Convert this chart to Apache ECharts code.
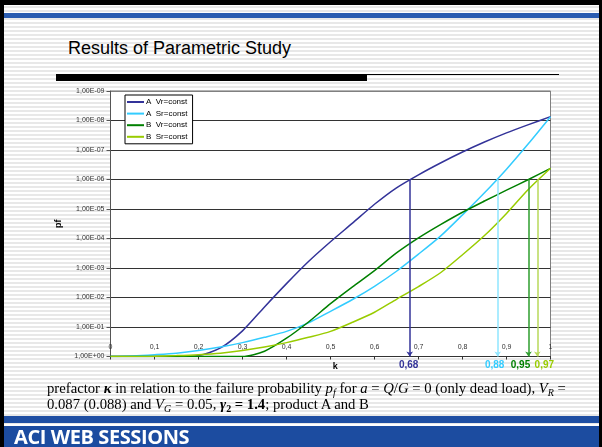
<!DOCTYPE html>
<html>
<head>
<meta charset="utf-8">
<script src="https://cdn.jsdelivr.net/npm/echarts@6/dist/echarts.min.js"></script>
<style>
  html, body { margin: 0; padding: 0; }
  body {
    width: 602px; height: 447px; overflow: hidden; position: relative;
    background: repeating-linear-gradient(to bottom, #ffffff 0px, #ffffff 2px, #e8e8e8 2px, #e8e8e8 4px);
    font-family: "Liberation Sans", Arial, sans-serif;
  }
  #frameTop { position: absolute; left: 0; top: 0; width: 602px; height: 5px; background: #000; }
  #frameLeft { position: absolute; left: 0; top: 0; width: 4px; height: 447px; background: #000; }
  #frameRight { position: absolute; right: 0; top: 0; width: 3px; height: 447px; background: #000; }
  #topBand { position: absolute; left: 4px; right: 3px; top: 13px; height: 5px; background: #2a5cb0; }
  #title { position: absolute; left: 68px; top: 38px; font-size: 18px; color: #000; white-space: nowrap; }
  #ruleBar { position: absolute; left: 56px; top: 74px; width: 311px; height: 7px; background: #000; }
  #ruleLine { position: absolute; left: 367px; top: 74px; width: 192px; height: 1px; background: #000; }
  #chart { position: absolute; left: 0; top: 0; width: 602px; height: 447px; }
  #caption {
    position: absolute; left: 47px; top: 380px; width: 550px;
    font-family: "Liberation Serif", "Times New Roman", serif; font-size: 14.7px; line-height: 16px; color: #000;
    white-space: nowrap;
  }
  #caption sub { font-size: 10px; vertical-align: -3px; line-height: 0; }
  #bottomStrip { position: absolute; left: 4px; right: 3px; top: 416px; height: 7px; background: #1f4fa3; }
  #banner {
    position: absolute; left: 4px; right: 3px; top: 426px; height: 21px; background: #1c4ca0;
  }
  #banner span {
    position: absolute; left: 10px; top: 0px; color: #fff; font-family: "Open Sans", sans-serif;
    font-weight: 700; font-size: 20px; letter-spacing: -0.4px; line-height: 22px;
  }
</style>
</head>
<body>
<div id="frameTop"></div>
<div id="frameLeft"></div>
<div id="frameRight"></div>
<div id="topBand"></div>
<div id="title">Results of Parametric Study</div>
<div id="ruleBar"></div>
<div id="ruleLine"></div>
<div id="chart"></div>
<div id="caption">prefactor <b><i>κ</i></b> in relation to the failure probability <i>p<sub>f</sub></i> for <i>a</i> = <i>Q</i>/<i>G</i> = 0 (only dead load), <i>V<sub>R</sub></i> =<br>0.087 (0.088) and <i>V<sub>G</sub></i> = 0.05, <b><i>γ</i><sub>2</sub> = 1.4</b>; product A and B</div>
<div id="bottomStrip"></div>
<div id="banner"><span>ACI WEB SESSIONS</span></div>
<script>
// prefactor k (x) against failure probability pf (log scale, reversed)
const kSteps = [0, 0.05, 0.1, 0.15, 0.2, 0.25, 0.3, 0.35, 0.4, 0.45, 0.5,
                0.55, 0.6, 0.65, 0.7, 0.75, 0.8, 0.85, 0.9, 0.95, 1.0];

const pfAVr = [1, 1, 1, 1, 0.933, 0.513, 0.135, 0.0209, 3.39e-3, 6.03e-4, 1.29e-4,
               3.02e-5, 6.92e-6, 1.91e-6, 6.92e-7, 2.75e-7, 1.17e-7, 5.37e-8, 2.63e-8, 1.38e-8, 7.41e-9];
const pfASr = [1, 0.955, 0.871, 0.776, 0.631, 0.479, 0.339, 0.224, 0.141, 0.0724, 0.0295,
               0.0117, 4.17e-3, 1.29e-3, 3.39e-4, 8.32e-5, 1.58e-5, 2.82e-6, 4.47e-7, 6.03e-8, 7.41e-9];
const pfBVr = [1, 1, 1, 1, 1, 1, 1, 0.661, 0.240, 0.0676, 0.0162,
               4.37e-3, 1.23e-3, 3.09e-4, 9.55e-5, 3.39e-5, 1.29e-5, 5.37e-6, 2.29e-6, 1.0e-6, 4.17e-7];
const pfBSr = [1, 1, 0.977, 0.933, 0.871, 0.776, 0.631, 0.479, 0.339, 0.224, 0.141,
               0.0692, 0.0316, 0.0115, 4.27e-3, 1.45e-3, 3.55e-4, 7.94e-5, 1.41e-5, 2.14e-6, 4.17e-7];

const seriesNames = ['A  Vr=const', 'A  Sr=const', 'B  Vr=const', 'B  Sr=const'];
const seriesValues = [pfAVr, pfASr, pfBVr, pfBSr];
const lineColors = ['#333399', '#33CCFF', '#008000', '#99CC00'];
const dropColors = ['#333399', '#8FE6FF', '#2E9E2E', '#B8D95A'];

// target failure probability and the k
const targetPf = 1e-6;
const kAtTarget = [0.68, 0.88, 0.95, 0.97];
const kLabels = ['0,68', '0,88', '0,95', '0,97'];
const kLabelShift = [-1, -3, -8, 7];

function expLabel(v) {
  const e = Math.round(Math.log10(v));
  const abs = Math.abs(e);
  return '1,00E' + (e < 0 ? '-' : '+') + (abs < 10 ? '0' : '') + abs;
}

const chart = echarts.init(document.getElementById('chart'), null, { renderer: 'canvas' });

const series = seriesNames.map((name, i) => ({
  name: name,
  type: 'line',
  data: kSteps.map((k, j) => [k, seriesValues[i][j]]),
  showSymbol: false,
  smooth: 0.25,
  lineStyle: { color: lineColors[i], width: 1.5 },
  itemStyle: { color: lineColors[i] },
  z: 3,
  markLine: {
    silent: true,
    symbol: ['none', 'arrow'],
    symbolSize: 5,
    label: { show: false },
    lineStyle: { color: dropColors[i], width: 1.5, type: 'solid' },
    itemStyle: { color: dropColors[i] },
    data: [[{ coord: [kAtTarget[i], targetPf] }, { coord: [kAtTarget[i], 1] }]]
  }
}));

// horizontal target line
series.push({
  type: 'line',
  data: [],
  z: 2,
  markLine: {
    silent: true,
    symbol: 'none',
    label: { show: false },
    lineStyle: { color: '#FF0000', width: 1.5, type: 'solid' },
    data: [{ yAxis: targetPf }]
  }
});

const gridColors = ['#808080', '#333333', '#333333', '#333333', '#333333',
                    '#333333', '#333333', '#333333', '#333333', '#333333'];

chart.setOption({
  animation: false,
  backgroundColor: 'transparent',
  textStyle: { fontFamily: '"Liberation Sans", Arial, sans-serif' },
  grid: {
    left: 110.5, right: 51.5, top: 91, bottom: 90.5,
    show: true, backgroundColor: '#ffffff', borderColor: '#808080', borderWidth: 1
  },
  legend: {
    data: seriesNames,
    orient: 'vertical',
    left: 125, top: 95,
    itemWidth: 17, itemHeight: 2, itemGap: 3.6,
    icon: 'rect',
    padding: [3, 5, 3, 2],
    borderColor: '#000', borderWidth: 1, backgroundColor: '#ffffff',
    textStyle: { fontSize: 8, color: '#000', padding: [0, 0, 0, -3] }
  },
  xAxis: {
    type: 'value', min: 0, max: 1, interval: 0.1,
    axisLine: { show: true, onZero: false, lineStyle: { color: '#333', width: 1 } },
    axisTick: { show: true, inside: false, length: 3, lineStyle: { color: '#333' } },
    axisLabel: {
      inside: true, margin: 6, fontSize: 7, color: '#333',
      formatter: v => String(Math.round(v * 10) / 10).replace('.', ',')
    },
    splitLine: { show: false }
  },
  yAxis: {
    type: 'log', logBase: 10, min: 1e-9, max: 1, inverse: true, splitNumber: 9,
    name: 'pf', nameLocation: 'middle', nameGap: 47, nameRotate: 90,
    nameTextStyle: { fontSize: 9, fontWeight: 'bold', color: '#000' },
    axisLine: { show: true, lineStyle: { color: '#555', width: 1 } },
    axisTick: { show: true, length: 4, lineStyle: { color: '#555' } },
    axisLabel: { fontSize: 7, color: '#333', margin: 6, formatter: expLabel },
    splitLine: { show: true, lineStyle: { color: gridColors, width: 1.2 } },
    minorTick: { show: false }
  },
  series: series
});

// k values written under the axis, and the axis name
const graphics = kAtTarget.map((k, i) => {
  const p = chart.convertToPixel({ gridIndex: 0 }, [k, 1]);
  return {
    type: 'text', x: p[0] + kLabelShift[i], y: p[1] + 9,
    style: {
      text: kLabels[i], fill: lineColors[i], font: 'bold 10px "Liberation Sans", Arial, sans-serif',
      align: 'center', verticalAlign: 'middle'
    }
  };
});
const kName = chart.convertToPixel({ gridIndex: 0 }, [0.511, 1]);
graphics.push({
  type: 'text', x: kName[0], y: kName[1] + 10,
  style: { text: 'k', fill: '#000', font: 'bold 9px "Liberation Sans", Arial, sans-serif',
           align: 'center', verticalAlign: 'middle' }
});
chart.setOption({ graphic: graphics });
</script>
</body>
</html>
